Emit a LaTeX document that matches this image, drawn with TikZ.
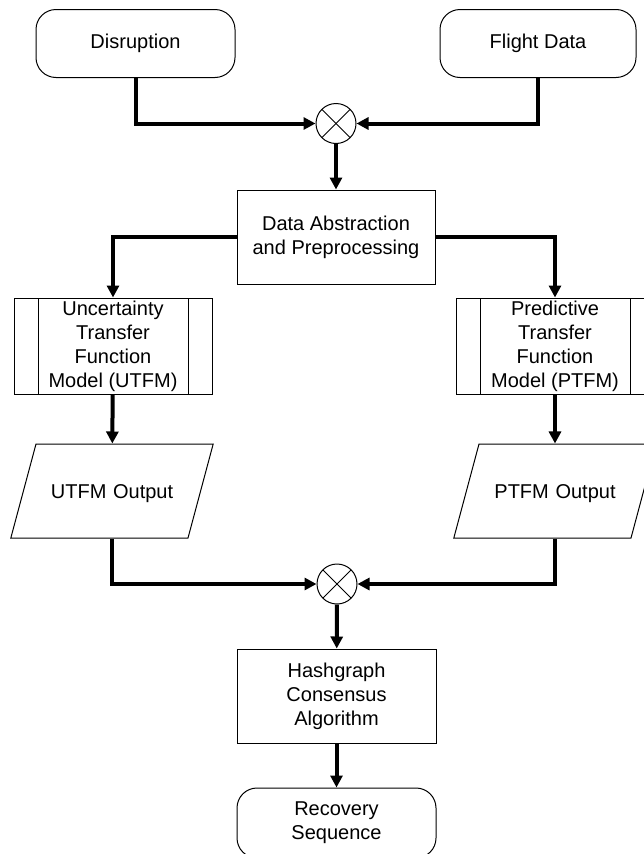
\documentclass[tikz,border=0pt]{standalone}
\usepackage{fontspec}
\setmainfont{Liberation Sans}
\usetikzlibrary{arrows.meta,shapes.geometric}
\tikzset{
  box/.style = {draw=black, line width=1pt, align=center, inner sep=0pt,
    font=\fontsize{20}{24}\selectfont},
  term/.style = {box, rectangle, rounded corners=20pt, minimum height=68pt},% start / end
  proc/.style = {box, rectangle, minimum width=198pt, minimum height=94pt},% plain step
  pproc/.style = {proc, minimum height=96pt, path picture={
      \draw[line width=1pt] ([xshift=24pt]path picture bounding box.north west)
        -- ([xshift=24pt]path picture bounding box.south west);
      \draw[line width=1pt] ([xshift=-24pt]path picture bounding box.north east)
        -- ([xshift=-24pt]path picture bounding box.south east);}},% model box
  io/.style = {box, trapezium, trapezium left angle=75, trapezium right angle=105,
    text width=152pt, text height=16pt, text depth=2pt, inner ysep=38pt},% output
  mix/.style = {draw=black, line width=1pt, circle, minimum size=40pt, inner sep=0pt,
    path picture={
      \draw[line width=1pt] (path picture bounding box.north west)
        -- (path picture bounding box.south east);
      \draw[line width=1pt] (path picture bounding box.north east)
        -- (path picture bounding box.south west);}},% junction
  flow/.style = {-{Triangle[length=12pt,width=12pt]}, line width=4pt}
}
\begin{document}
\begin{tikzpicture}[x=1pt,y=-1pt]
\useasboundingbox (0,0) rectangle (644,854);
\clip (0,0) rectangle (644,854);

\node [term, minimum width=199pt] (disr) at (135.5,43.5) {Disruption};
\node [term, minimum width=196pt] (flight) at (538,43.5) {Flight Data};
\node [mix] (mix1) at (336,123.5) {};
\node [proc] (abstr) at (336,237) {Data Abstraction\\and Preprocessing};
\node [pproc] (utfm) at (113,346) {Uncertainty\\Transfer\\Function\\Model (UTFM)};
\node [pproc] (ptfm) at (555,346) {Predictive\\Transfer\\Function\\Model (PTFM)};
\node [io] (uout) at (112,491) {UTFM Output};
\node [io] (pout) at (555,491) {PTFM Output};
\node [mix] (mix2) at (337,584) {};
\node [proc, minimum width=199pt] (hash) at (336.5,696) {Hashgraph\\Consensus\\Algorithm};
\node [term, minimum width=199pt, minimum height=70pt] (recov) at (336.5,823) {Recovery\\Sequence};

\draw [flow] (disr.south) |- (mix1.west);
\draw [flow] (flight.south) |- (mix1.east);
\draw [flow] (mix1) -- (abstr);
\draw [flow] (abstr.west) -| (utfm.north);
\draw [flow] (abstr.east) -| (ptfm.north);
\draw [flow] (utfm) -- (uout);
\draw [flow] (ptfm) -- (pout);
\draw [flow] (uout.south) |- (mix2.west);
\draw [flow] (pout.south) |- (mix2.east);
\draw [flow] (mix2) -- (hash);
\draw [flow] (hash) -- (recov);
\end{tikzpicture}
\end{document}
